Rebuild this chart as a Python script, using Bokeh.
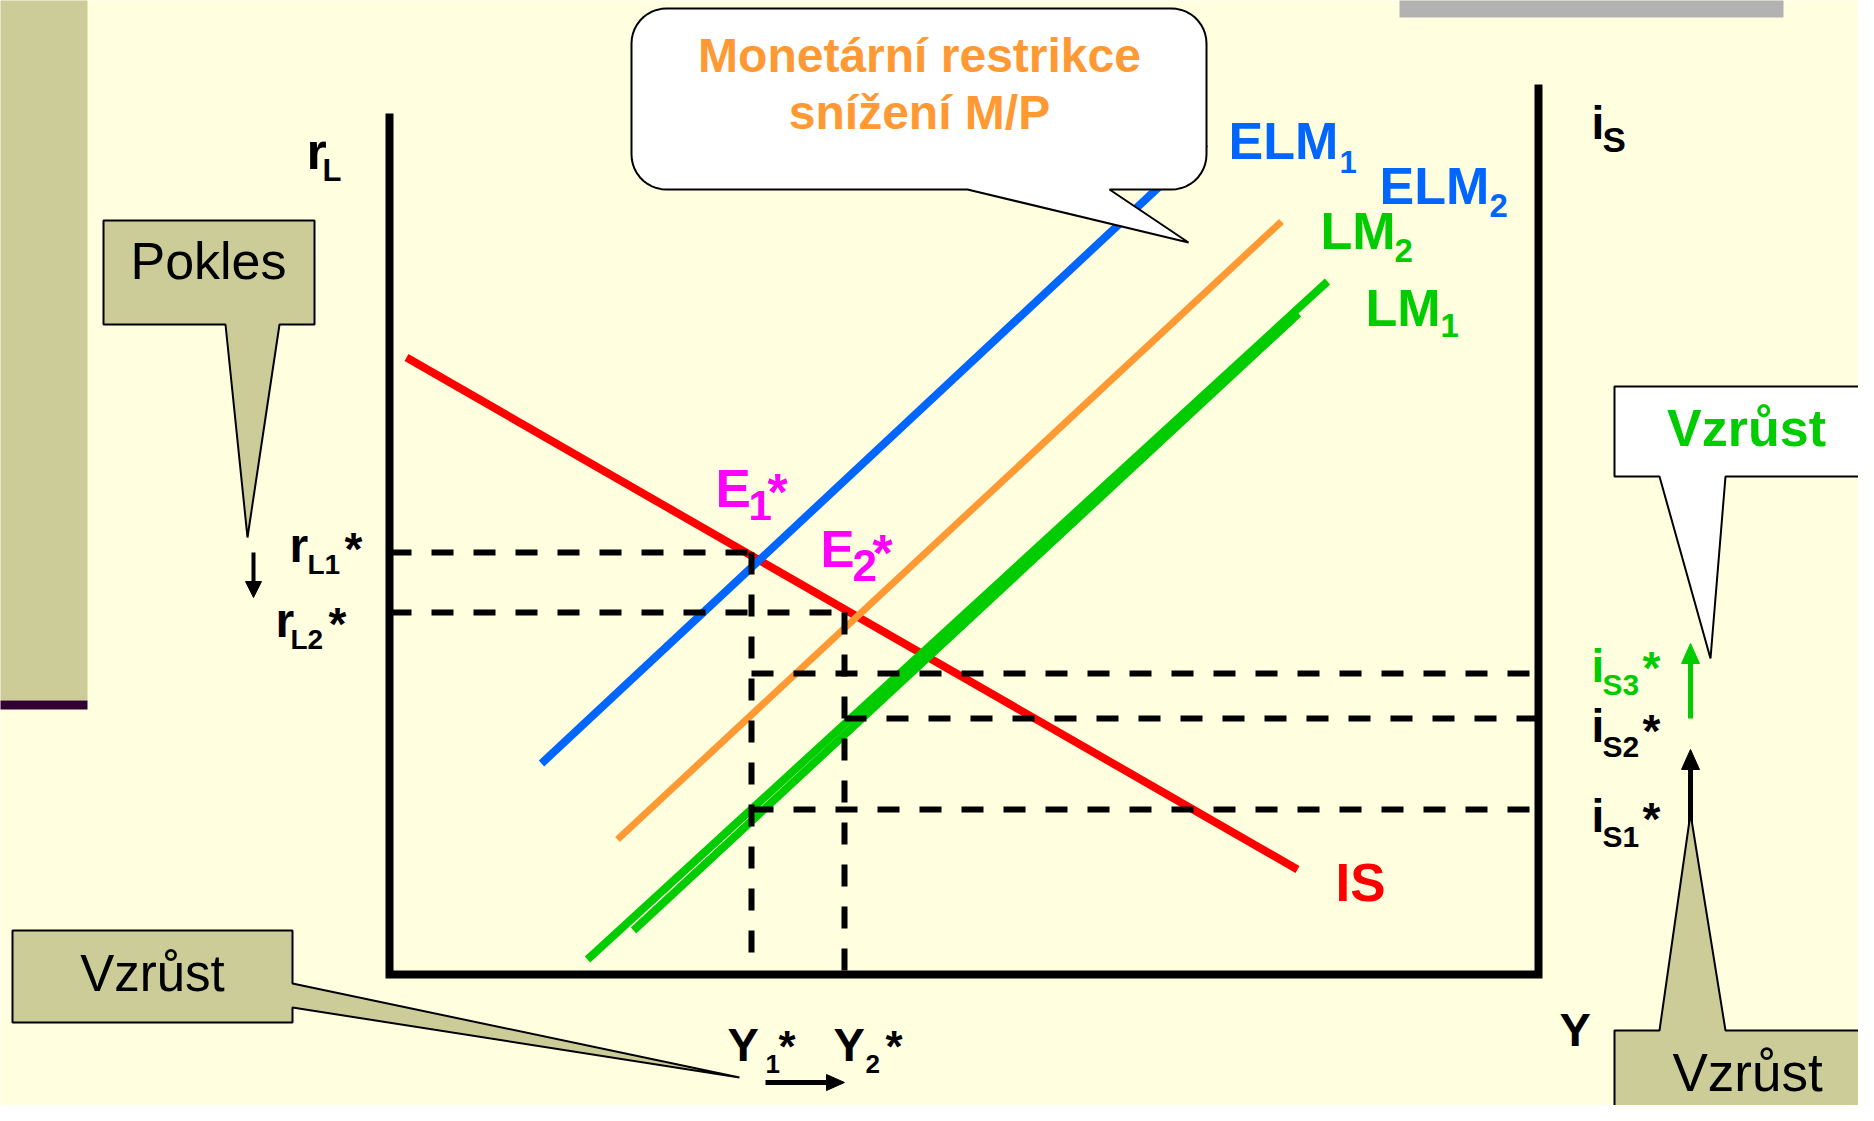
import numpy as np
from bokeh.plotting import figure
from bokeh.models import Range1d
from bokeh.core.properties import value
from bokeh.embed import file_html
from bokeh.resources import INLINE

# ---------------- data (diagram units: x = output Y, y = interest rate) ----------------
axis_x_max = 114.9      # right axis (i_S) position
axis_left_top = 86.1    # top of r_L axis
axis_right_top = 89.0   # top of i_S axis

IS_x = [1.7, 90.8]
IS_y = [61.7, 10.5]
ELM1_x = [15.2, 81.6]
ELM1_y = [21.1, 83.1]
ELM2_x = [22.8, 89.2]
ELM2_y = [13.5, 75.3]
LM1_x = [19.8, 93.8]
LM1_y = [1.5, 69.3]
LM2_x = [24.4, 90.9]
LM2_y = [4.4, 66.1]

Y_star = [36.2, 45.5]          # Y1*, Y2*
rL_star = [42.2, 36.2]         # rL1*, rL2*
iS_star = [16.5, 25.6, 30.1]   # iS1*, iS2*, iS3*
Y1_dash_bottom = 1.9

# ---------------- styling ----------------
BG = "#FFFFE0"
OLIVE = "#CCCC99"
BLUE = "#0066FF"
ORANGE = "#FF9933"
GREEN = "#00CC00"
RED = "#FF0000"
MAG = "#FF00FF"
FONT = "Liberation Sans"

X0, Y0, S = 389, 974, 10.0
def dx(px):
    return (px - X0) / S
def dy(py):
    return (Y0 - py) / S

W, H = 1858, 1105
p = figure(width=W, height=H, output_backend="svg", toolbar_location=None,
           x_range=Range1d(dx(0), dx(W)), y_range=Range1d(dy(H), dy(0)),
           x_axis_type=None, y_axis_type=None, min_border=0,
           background_fill_color=BG, border_fill_color=BG, outline_line_color=None)
p.xgrid.visible = False
p.ygrid.visible = False

# page decorations
p.quad(left=[dx(-5)], right=[dx(87)], top=[dy(-5)], bottom=[dy(700)], fill_color=OLIVE, line_color=None)
p.quad(left=[dx(-5)], right=[dx(87)], top=[dy(700)], bottom=[dy(709)], fill_color="#330033", line_color=None)
p.quad(left=[dx(1399)], right=[dx(1783)], top=[dy(-5)], bottom=[dy(17)], fill_color="#B2B2B2", line_color=None)

# axes
p.line([0, 0, axis_x_max, axis_x_max], [axis_left_top, 0, 0, axis_right_top],
       line_color="black", line_width=8, line_join="miter")

# curves
p.line(IS_x, IS_y, line_color=RED, line_width=8)
p.line(LM2_x, LM2_y, line_color=GREEN, line_width=8)
p.line(LM1_x, LM1_y, line_color=GREEN, line_width=8)
p.line(ELM2_x, ELM2_y, line_color=ORANGE, line_width=7)
p.line(ELM1_x, ELM1_y, line_color=BLUE, line_width=8)

# dashed guides
dash = dict(line_color="black", line_width=6, line_dash="22 20")
p.line([0, Y_star[0]], [rL_star[0], rL_star[0]], **dash)
p.line([0, Y_star[1]], [rL_star[1], rL_star[1]], **dash)
p.line([Y_star[0], Y_star[0]], [rL_star[0], Y1_dash_bottom], **dash)
p.line([Y_star[1], Y_star[1]], [rL_star[1], 0], **dash)
p.line([Y_star[0], axis_x_max], [iS_star[2], iS_star[2]], **dash)
p.line([Y_star[1], axis_x_max], [iS_star[1], iS_star[1]], **dash)
p.line([Y_star[0], axis_x_max], [iS_star[0], iS_star[0]], **dash)


def arrow(x0, y0, x1, y1, color, w=5, hl=18, hw=18):
    v = np.array([x1 - x0, y1 - y0], float)
    L = np.hypot(*v)
    u = v / L
    n = np.array([-u[1], u[0]])
    base = np.array([x1, y1]) - hl * u
    p.line([dx(x0), dx(base[0] + u[0] * 2)], [dy(y0), dy(base[1] + u[1] * 2)], line_color=color, line_width=w)
    a = base + n * hw / 2
    b = base - n * hw / 2
    p.patch([dx(x1), dx(a[0]), dx(b[0])], [dy(y1), dy(a[1]), dy(b[1])], fill_color=color, line_color=color, line_width=1)


def poly(pts, fill, lw=2):
    p.patch([dx(a) for a, b in pts], [dy(b) for a, b in pts], fill_color=fill, line_color="black", line_width=lw)


arrow(253, 552, 253, 597, "black", w=4, hl=16, hw=16)
arrow(1690, 718, 1690, 643, GREEN, w=5, hl=20, hw=18)
arrow(1690, 830, 1690, 749, "black", w=5, hl=20, hw=18)
arrow(765, 1082, 844, 1082, "black", w=5, hl=18, hw=16)

# callouts
poly([(103, 220), (314, 220), (314, 324), (279, 324), (247, 537), (225, 324), (103, 324)], OLIVE)
poly([(12, 930), (292, 930), (292, 983), (739, 1077), (292, 1007), (292, 1022), (12, 1022)], OLIVE)
poly([(1614, 386), (1890, 386), (1890, 476), (1725, 476), (1710, 658), (1659, 476), (1614, 476)], "white")
poly([(1614, 1030), (1659, 1030), (1690, 813), (1725, 1030), (1890, 1030), (1890, 1130), (1614, 1130)], OLIVE)

# rounded speech bubble
x0, y0, x1, y1, r = 631, 8, 1206, 189, 35
pts = []
def arc(cx, cy, a0, a1):
    for t in np.linspace(np.radians(a0), np.radians(a1), 12):
        pts.append((cx + r * np.cos(t), cy + r * np.sin(t)))
arc(x0 + r, y0 + r, 180, 270)
arc(x1 - r, y0 + r, 270, 360)
arc(x1 - r, y1 - r, 0, 90)
pts += [(1109, y1), (1188, 242), (967, y1)]
arc(x0 + r, y1 - r, 90, 180)
poly(pts, "white")

BASE_FIX = 0.38  # compensate rendered baseline offset


def txt(px, py, s, size, color="black", bold=True, align="left"):
    p.text(x=[dx(px)], y=[dy(py - BASE_FIX * size)], text=[s], text_font=value(FONT),
           text_font_size=value(f"{size}px"), text_font_style="bold" if bold else "normal",
           text_color=color, text_align=align, text_baseline="alphabetic")


txt(919, 73, "Monetární restrikce", 48, ORANGE, align="center")
txt(919, 130, "snížení M/P", 48, ORANGE, align="center")
txt(208, 280, "Pokles", 52, bold=False, align="center")
txt(152, 992, "Vzrůst", 51, bold=False, align="center")
txt(1747, 1092, "Vzrůst", 53, bold=False, align="center")
txt(1746, 447, "Vzrůst", 52, GREEN, align="center")

# axis labels
txt(306, 170, "r", 52); txt(322, 182, "L", 31)
txt(1591, 140, "i", 46); txt(1602, 152, "S", 35)
txt(1559, 1047, "Y", 47)

# curve labels
txt(1228, 160, "ELM", 52, BLUE); txt(1339, 173, "1", 31, BLUE)
txt(1379, 205, "ELM", 52, BLUE); txt(1489, 218, "2", 33, BLUE)
txt(1320, 250, "LM", 52, GREEN); txt(1394, 263, "2", 33, GREEN)
txt(1365, 327, "LM", 52, GREEN); txt(1440, 338, "1", 33, GREEN)
txt(1335, 902, "IS", 53, RED)

# equilibrium labels
txt(715, 508, "E", 53, MAG); txt(748, 521, "1", 42, MAG); txt(767, 511, "*", 52, MAG)
txt(820, 568, "E", 51, MAG); txt(852, 582, "2", 44, MAG); txt(872, 572, "*", 52, MAG)

txt(289, 563, "r", 48); txt(307, 575, "L1", 28); txt(344, 566, "*", 46)
txt(275, 638, "r", 48); txt(290, 650, "L2", 28); txt(328, 641, "*", 46)

txt(1591, 683, "i", 46, GREEN); txt(1602, 695, "S3", 30, GREEN); txt(1642, 685, "*", 46, GREEN)
txt(1591, 743, "i", 46); txt(1602, 757, "S2", 30); txt(1642, 748, "*", 46)
txt(1591, 833, "i", 46); txt(1602, 847, "S1", 30); txt(1642, 836, "*", 46)

txt(727, 1062, "Y", 47); txt(765, 1073, "1", 26); txt(778, 1063, "*", 44)
txt(833, 1062, "Y", 47); txt(865, 1073, "2", 26); txt(885, 1063, "*", 44)

open("out.html", "w").write(file_html(p, INLINE))
